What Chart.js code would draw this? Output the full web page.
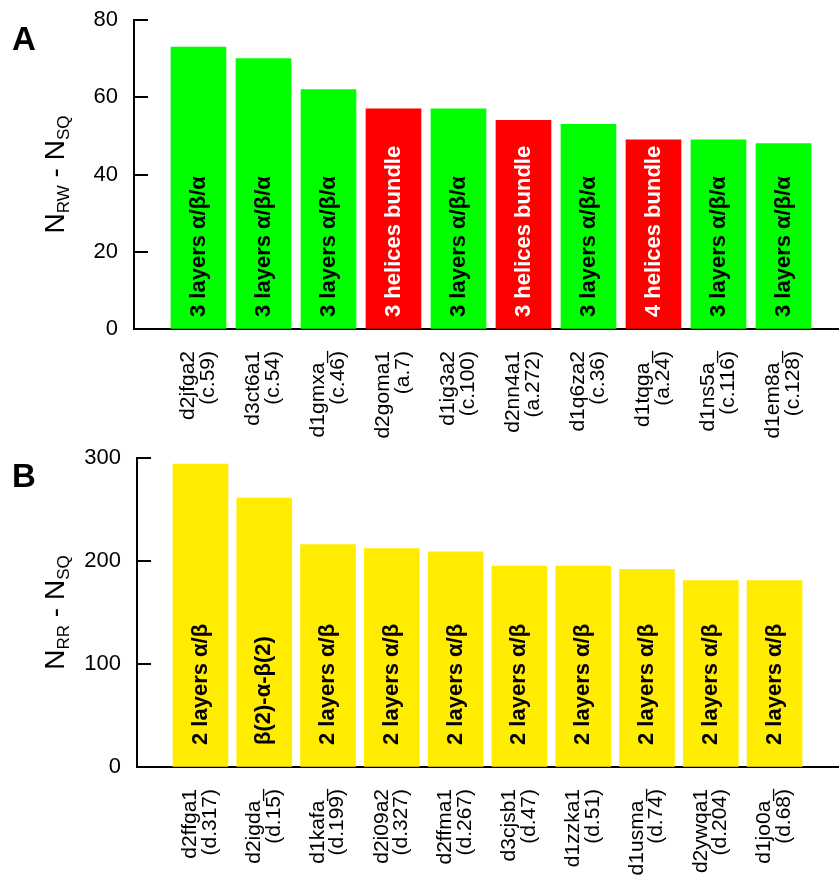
<!DOCTYPE html>
<html>
<head>
<meta charset="utf-8">
<script src="https://cdn.jsdelivr.net/npm/chart.js@4.4.0/dist/chart.umd.min.js"></script>
<style>
  html, body { margin: 0; padding: 0; background: #fff; }
  #wrap { position: relative; width: 839px; height: 879px; }
  .box { position: absolute; left: 0; width: 839px; }
  #boxA { top: 0; height: 440px; }
  #boxB { top: 440px; height: 439px; }
</style>
</head>
<body>
<div id="wrap">
  <div class="box" id="boxA"><canvas id="chartA"></canvas></div>
  <div class="box" id="boxB"><canvas id="chartB"></canvas></div>
</div>
<script>
// panel A: N_RW - N_SQ
const domainsA = ["d2jfga2", "d3ct6a1", "d1gmxa_", "d2goma1", "d1ig3a2", "d2nn4a1", "d1q6za2", "d1tqga_", "d1ns5a_", "d1em8a_"];
const classesA = ["c.59", "c.54", "c.46", "a.7", "c.100", "a.272", "c.36", "a.24", "c.116", "c.128"];
const foldsA = ["3 layers α/β/α", "3 layers α/β/α", "3 layers α/β/α", "3 helices bundle", "3 layers α/β/α",
  "3 helices bundle", "3 layers α/β/α", "4 helices bundle", "3 layers α/β/α", "3 layers α/β/α"];
const valuesA = [73, 70, 62, 57, 57, 54, 53, 49, 49, 48];
const ticksA = [0, 20, 40, 60, 80];

// panel B: N_RR - N_SQ
const domainsB = ["d2ffga1", "d2igda_", "d1kafa_", "d2i09a2", "d2ffma1", "d3cjsb1", "d1zzka1", "d1usma_", "d2ywqa1", "d1jo0a_"];
const classesB = ["d.317", "d.15", "d.199", "d.327", "d.267", "d.47", "d.51", "d.74", "d.204", "d.68"];
const foldsB = ["2 layers α/β", "β(2)-α-β(2)", "2 layers α/β", "2 layers α/β", "2 layers α/β",
  "2 layers α/β", "2 layers α/β", "2 layers α/β", "2 layers α/β", "2 layers α/β"];
const valuesB = [294, 261, 216, 212, 209, 195, 195, 192, 181, 181];
const ticksB = [0, 100, 200, 300];

const FONT = "'Liberation Sans', Arial, Helvetica, sans-serif";
const GREEN = "#00ff00", RED = "#ff0000", YELLOW = "#ffec00";

// inward y ticks, bar texts, axis title with subscripts, panel letter
const decor = {
  id: "decor",
  afterDatasetsDraw(chart, args, o) {
    const { ctx, chartArea } = chart;
    const meta = chart.getDatasetMeta(0);
    ctx.save();
    ctx.font = "bold 22px " + FONT;
    ctx.textAlign = "left";
    ctx.textBaseline = "middle";
    meta.data.forEach((bar, i) => {
      ctx.save();
      ctx.translate(bar.x, chartArea.bottom - o.textOffset);
      ctx.rotate(-Math.PI / 2);
      ctx.fillStyle = o.textColors[i];
      ctx.fillText(o.folds[i], 0, 0);
      ctx.restore();
    });
    ctx.restore();
  },
  afterDraw(chart, args, o) {
    const { ctx, chartArea } = chart;
    const y = chart.scales.y;
    ctx.save();
    ctx.strokeStyle = "#000";
    ctx.lineWidth = 2;
    y.ticks.forEach(t => {
      const py = Math.round(y.getPixelForValue(t.value));
      ctx.beginPath();
      ctx.moveTo(chartArea.left, py);
      ctx.lineTo(chartArea.left + 14, py);
      ctx.stroke();
    });

    // y title: N_xx - N_SQ
    const parts = [
      ["N", 28, 0], [o.sub1, 17, 5], [" - N", 28, 0], [o.sub2, 17, 5]
    ];
    let total = 0;
    parts.forEach(p => { ctx.font = p[1] + "px " + FONT; total += ctx.measureText(p[0]).width; });
    ctx.translate(o.titleX, (chartArea.top + chartArea.bottom) / 2);
    ctx.rotate(-Math.PI / 2);
    ctx.fillStyle = "#000";
    ctx.textBaseline = "alphabetic";
    ctx.textAlign = "left";
    let cx = -total / 2;
    parts.forEach(p => {
      ctx.font = p[1] + "px " + FONT;
      ctx.fillText(p[0], cx, p[2]);
      cx += ctx.measureText(p[0]).width;
    });
    ctx.restore();

    ctx.save();
    ctx.font = "bold 33px " + FONT;
    ctx.fillStyle = "#000";
    ctx.fillText(o.letter, 12, o.letterY);
    ctx.restore();
  }
};

function makePanel(id, p) {
  return new Chart(document.getElementById(id), {
    type: "bar",
    data: {
      datasets: [{
        data: p.values.map((v, i) => ({ x: i, y: v })),
        backgroundColor: p.colors,
        borderWidth: 0,
        barThickness: 55
      }]
    },
    options: {
      responsive: true,
      maintainAspectRatio: false,
      animation: false,
      layout: { padding: { top: p.top, left: 0, right: 0, bottom: 0 } },
      plugins: {
        legend: { display: false },
        tooltip: { enabled: false },
        decor: {
          folds: p.folds, textColors: p.textColors, textOffset: p.textOffset,
          sub1: p.sub1, sub2: "SQ", titleX: 64, letter: p.letter, letterY: p.letterY
        }
      },
      scales: {
        x: {
          type: "linear",
          offset: false,
          min: p.xmin, max: p.xmax,
          afterBuildTicks: s => { s.ticks = p.domains.map((d, i) => ({ value: i })); },
          afterFit: s => { s.height = p.xh; },
          grid: { display: false },
          border: { color: "#000", width: 2 },
          ticks: {
            autoSkip: false, maxRotation: 90, minRotation: 90, padding: 14,
            labelOffset: -10,
            color: "#000",
            font: { family: FONT, size: 21, lineHeight: 0.93 },
            callback: (v, i) => [p.domains[i], "(" + p.classes[i] + ")"]
          }
        },
        y: {
          min: 0, max: p.ticks[p.ticks.length - 1],
          afterBuildTicks: s => { s.ticks = p.ticks.map(v => ({ value: v })); },
          afterFit: s => { s.width = p.yw; },
          grid: { display: true, drawOnChartArea: false, drawTicks: true, tickLength: 14, tickColor: "rgba(0,0,0,0)" },
          border: { color: "#000", width: 2 },
          ticks: { color: "#000", padding: 2, font: { family: FONT, size: 22 } }
        }
      }
    },
    plugins: [decor]
  });
}

makePanel("chartA", {
  domains: domainsA, classes: classesA, folds: foldsA, values: valuesA, ticks: ticksA,
  colors: classesA.map(c => c[0] === "a" ? RED : GREEN),
  textColors: classesA.map(c => c[0] === "a" ? "#fff" : "#000"),
  textOffset: 12, sub1: "RW", letter: "A", letterY: 50,
  top: 20, xh: 111, yw: 134, xmin: -0.992, xmax: 9.854
});

makePanel("chartB", {
  domains: domainsB, classes: classesB, folds: foldsB, values: valuesB, ticks: ticksB,
  colors: classesB.map(() => YELLOW),
  textColors: classesB.map(() => "#000"),
  textOffset: 22, sub1: "RR", letter: "B", letterY: 47,
  top: 18, xh: 112, yw: 137, xmin: -0.995, xmax: 10.01
});
</script>
</body>
</html>
